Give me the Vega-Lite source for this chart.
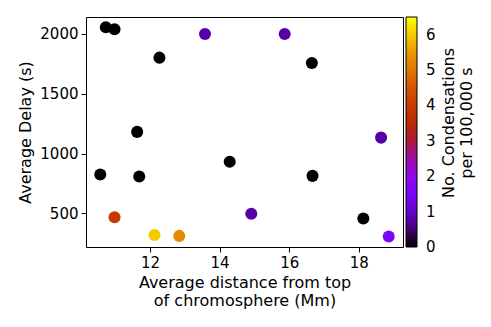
{
  "$schema": "https://vega.github.io/schema/vega-lite/v6.json",
  "width": 317,
  "height": 230,
  "autosize": {"type": "none"},
  "padding": {"left": 86, "top": 17, "right": 88, "bottom": 80},
  "background": "white",
  "config": {
    "font": "DejaVu Sans",
    "view": {"stroke": "#000000", "strokeWidth": 1},
    "axis": {
      "domain": false,
      "grid": false,
      "tickColor": "#000000",
      "tickSize": 5,
      "tickWidth": 1,
      "labelColor": "#000000",
      "titleColor": "#000000",
      "labelFont": "DejaVu Sans",
      "titleFont": "DejaVu Sans",
      "labelFontSize": 15,
      "titleFontSize": 16,
      "titleFontWeight": "normal",
      "labelPadding": 3
    },
    "legend": {
      "labelFont": "DejaVu Sans",
      "titleFont": "DejaVu Sans",
      "labelFontSize": 15,
      "titleFontSize": 16,
      "titleFontWeight": "normal",
      "labelColor": "#000000",
      "titleColor": "#000000"
    }
  },
  "data": {
    "values": [
      {"distance": 10.73, "delay": 2056, "rate": 0},
      {"distance": 10.98, "delay": 2039, "rate": 0},
      {"distance": 13.58, "delay": 2000, "rate": 0.75},
      {"distance": 15.87, "delay": 2000, "rate": 0.75},
      {"distance": 12.27, "delay": 1802, "rate": 0},
      {"distance": 16.65, "delay": 1757, "rate": 0},
      {"distance": 11.63, "delay": 1181, "rate": 0},
      {"distance": 18.64, "delay": 1133, "rate": 0.75},
      {"distance": 14.29, "delay": 932, "rate": 0},
      {"distance": 10.57, "delay": 824, "rate": 0},
      {"distance": 11.69, "delay": 807, "rate": 0},
      {"distance": 16.67, "delay": 813, "rate": 0},
      {"distance": 14.91, "delay": 497, "rate": 0.75},
      {"distance": 10.98, "delay": 467, "rate": 3.95},
      {"distance": 18.13, "delay": 456, "rate": 0},
      {"distance": 12.13, "delay": 319, "rate": 6.0},
      {"distance": 12.84, "delay": 311, "rate": 5.3},
      {"distance": 18.86, "delay": 305, "rate": 1.6}
    ]
  },
  "mark": {"type": "circle", "size": 145, "opacity": 1, "fillOpacity": 1},
  "encoding": {
    "x": {
      "field": "distance",
      "type": "quantitative",
      "scale": {"domain": [10.16, 19.27], "nice": false, "zero": false},
      "axis": {
        "values": [12, 14, 16, 18],
        "title": ["Average distance from top", "of chromosphere (Mm)"],
        "titlePadding": 4,
        "titleLineHeight": 18
      }
    },
    "y": {
      "field": "delay",
      "type": "quantitative",
      "scale": {"domain": [218, 2142], "nice": false, "zero": false},
      "axis": {
        "values": [500, 1000, 1500, 2000],
        "format": "d",
        "title": "Average Delay (s)",
        "titlePadding": 6
      }
    },
    "color": {
      "field": "rate",
      "type": "quantitative",
      "scale": {
        "domain": [0, 6.5],
        "interpolate": "rgb",
        "range": ["#000000", "#39004f", "#510096", "#6301ce", "#7202f3", "#8004ff", "#8c07f3", "#970bce", "#a11096", "#ab174f", "#b42000", "#bd2a00", "#c63700", "#ce4600", "#d55700", "#dd6c00", "#e48300", "#eb9d00", "#f2ba00", "#f9db00", "#ffff00"]
      },
      "legend": {
        "orient": "none",
        "legendX": 320,
        "legendY": 0,
        "direction": "vertical",
        "gradientLength": 230,
        "gradientThickness": 11,
        "gradientStrokeColor": "#000000",
        "gradientStrokeWidth": 1,
        "values": [0, 1, 2, 3, 4, 5, 6],
        "format": "d",
        "labelOverlap": false,
        "labelOffset": 9,
        "padding": 0,
        "title": ["No. Condensations", "per 100,000 s"],
        "titleOrient": "right",
        "titleAnchor": "middle",
        "titlePadding": 5,
        "titleLineHeight": 18,
        "encoding": {
          "title": {"angle": {"value": -90}, "baseline": {"value": "top"}},
          "labels": {"baseline": {"value": "middle"}}
        }
      }
    }
  }
}
